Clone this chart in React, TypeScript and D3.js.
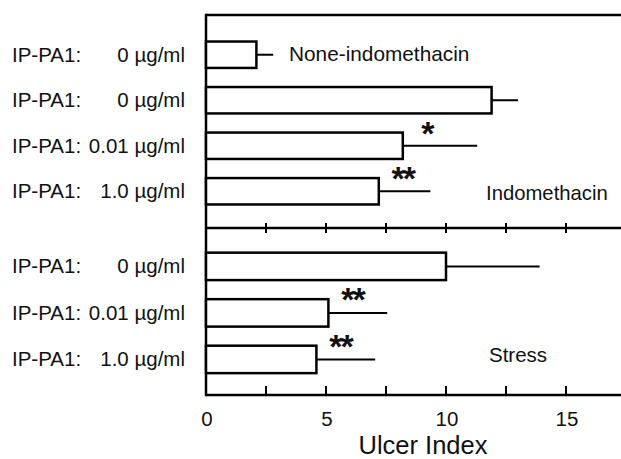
import React from "react";
import * as d3 from "d3";

// top panel: none-indomethacin + indomethacin groups
const topRows = ["0", "0", "0.01", "1.0"];
const topMeans = [2.1, 11.9, 8.2, 7.2];
const topErrors = [2.8, 13.0, 11.3, 9.35];
const topStars = ["", "", "*", "**"];

// bottom panel: stress
const bottomRows = ["0", "0.01", "1.0"];
const bottomMeans = [10.0, 5.1, 4.6];
const bottomErrors = [13.9, 7.55, 7.05];
const bottomStars = ["", "**", "**"];

const xTicks = [0, 2.5, 5, 7.5, 10, 12.5, 15];
const xTickLabels = [0, 5, 10, 15];

const W = 621;
const H = 459;
const font = "'Liberation Sans', Arial, sans-serif";

const App = () => {
  const left = 206;
  const top = 15;
  const mid = 228;
  const bottom = 395;

  const x = d3.scaleLinear().domain([0, 17.5]).range([left, left + 17.5 * 24]);

  const yTop = d3
    .scaleBand<number>()
    .domain(d3.range(topRows.length))
    .range([top, mid])
    .paddingInner(0.42)
    .paddingOuter(0.55)
    .align(0.53);

  const yBottom = d3
    .scaleBand<number>()
    .domain(d3.range(bottomRows.length))
    .range([mid, bottom])
    .paddingInner(0.41)
    .paddingOuter(0.5)
    .align(0.53);

  const rows = [
    ...topRows.map((c, i) => ({
      conc: c,
      mean: topMeans[i],
      err: topErrors[i],
      star: topStars[i],
      y: yTop(i)!,
      h: yTop.bandwidth(),
    })),
    ...bottomRows.map((c, i) => ({
      conc: c,
      mean: bottomMeans[i],
      err: bottomErrors[i],
      star: bottomStars[i],
      y: yBottom(i)!,
      h: yBottom.bandwidth(),
    })),
  ];

  return (
    <svg
      width={W}
      height={H}
      style={{ position: "absolute", left: 0, top: 0, background: "#fff" }}
      fontFamily={font}
    >
      {/* frame */}
      <line x1={left} x2={W} y1={top} y2={top} stroke="#000" strokeWidth={2.5} />
      <line x1={left} x2={W} y1={mid} y2={mid} stroke="#000" strokeWidth={2.5} />
      <line x1={left} x2={W} y1={bottom} y2={bottom} stroke="#000" strokeWidth={2.5} />
      <line x1={left} x2={left} y1={top - 1.25} y2={bottom + 1.25} stroke="#000" strokeWidth={2.5} />

      {xTicks.map((t) => (
        <g key={t}>
          <line x1={x(t)} x2={x(t)} y1={mid - 5} y2={mid + 5} stroke="#000" strokeWidth={2} />
          <line x1={x(t)} x2={x(t)} y1={bottom - 9} y2={bottom} stroke="#000" strokeWidth={2} />
        </g>
      ))}
      {xTickLabels.map((t) => (
        <text key={t} x={x(t) + 1} y={425.5} fontSize={20.5} textAnchor="middle" fill="#111">
          {t}
        </text>
      ))}
      <text x={423} y={453.5} fontSize={25.5} textAnchor="middle" fill="#111">
        Ulcer Index
      </text>

      {rows.map((r, i) => {
        const cy = r.y + r.h / 2;
        return (
          <g key={i}>
            <line x1={x(r.mean)} x2={x(r.err)} y1={cy} y2={cy} stroke="#000" strokeWidth={2} />
            <rect
              x={x(0)}
              y={r.y}
              width={x(r.mean) - x(0)}
              height={r.h}
              fill="#fff"
              stroke="#000"
              strokeWidth={2.5}
            />
            <text x={12} y={cy} dy="0.34em" fontSize={20.5} fill="#111">
              IP-PA1:
            </text>
            <text x={185} y={cy} dy="0.34em" fontSize={20.5} fill="#111" textAnchor="end">
              {r.conc} µg/ml
            </text>
            {r.star && (
              <text
                x={x(r.mean) + 24}
                y={r.y + 12}
                fontSize={34}
                fontWeight="bold"
                letterSpacing={-2}
                textAnchor="middle"
                fill="#111"
              >
                {r.star}
              </text>
            )}
          </g>
        );
      })}

      <text x={289} y={61} fontSize={20.8} fill="#111">
        None-indomethacin
      </text>
      <text x={486} y={200} fontSize={20.3} fill="#111">
        Indomethacin
      </text>
      <text x={489} y={362} fontSize={20.5} fill="#111">
        Stress
      </text>
    </svg>
  );
};

export default App;
